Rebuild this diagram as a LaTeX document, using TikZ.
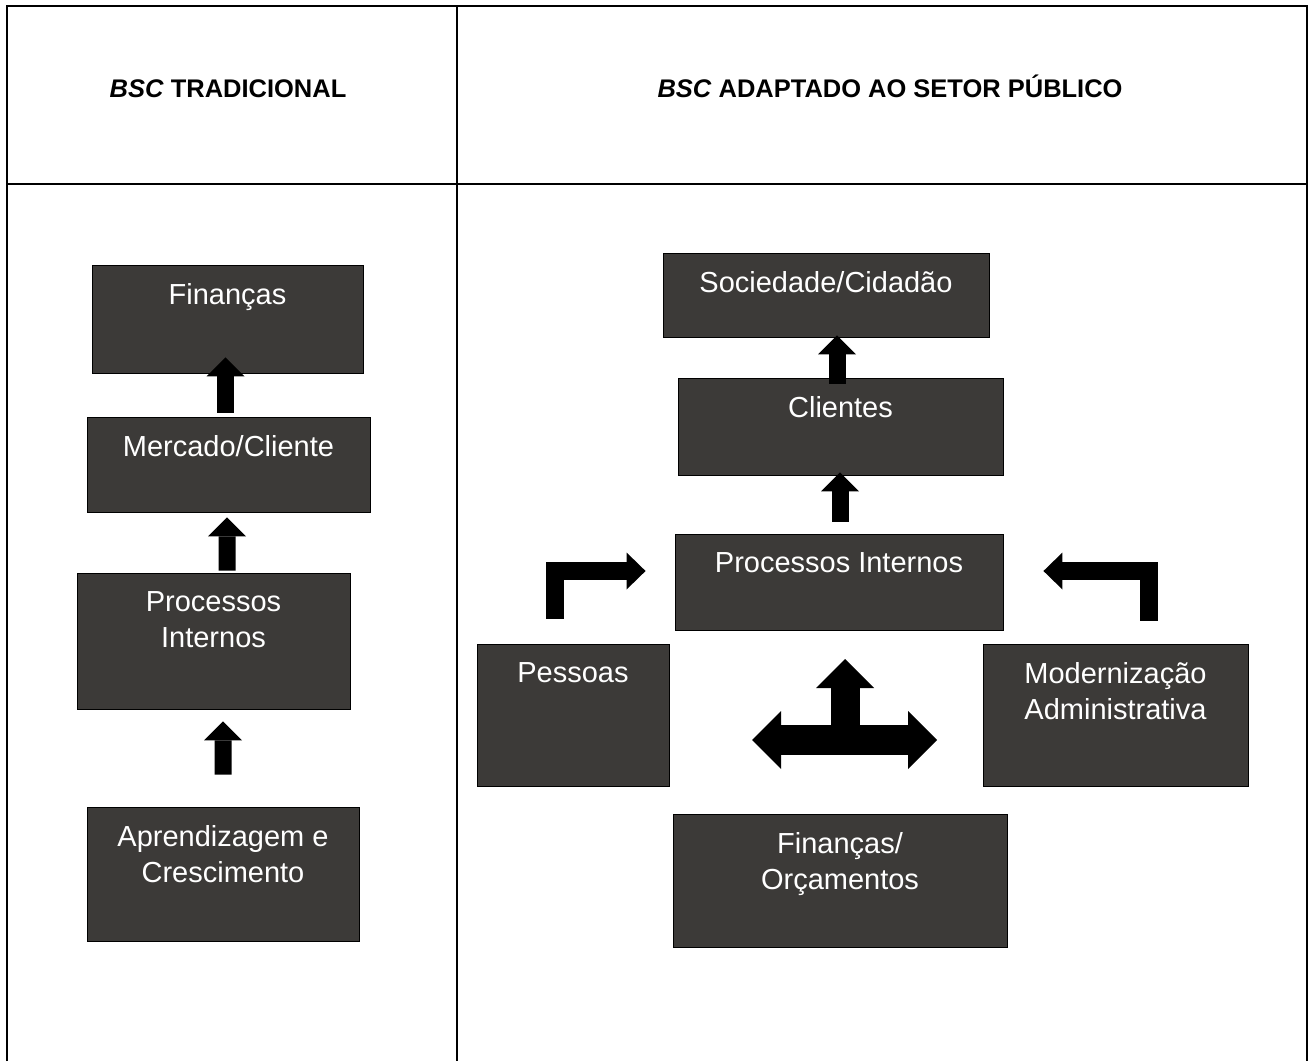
\documentclass[tikz,border=0pt]{standalone}
\usepackage{fontspec}
\setmainfont{Liberation Sans}
\usetikzlibrary{positioning,fit,calc,arrows.meta}

\definecolor{boxgray}{RGB}{60,58,56}
\def\BOXCOLOR{boxgray}
\def\ARROWCOLOR{black}
\def\LINECOLOR{black}

\begin{document}
\begin{tikzpicture}[x=0.02cm,y=-0.02cm,
	tableline/.style={\LINECOLOR,line width=0.05cm,line join=miter},
	box/.style={draw=black,line width=0.5pt,fill=\BOXCOLOR,inner sep=0pt},
	boxtext/.style={text=white,font=\fontsize{16.5}{20.5}\selectfont,align=center,inner sep=0pt,anchor=north},
	header/.style={font=\fontsize{14.5}{17}\selectfont\bfseries,anchor=base,inner sep=0pt},
	uparrow/.style={\ARROWCOLOR,line width=0.34cm,-{Triangle[width=0.76cm,length=0.38cm,line width=0pt]}},
	elbowarrow/.style={\ARROWCOLOR,line width=0.36cm,line join=miter,-{Triangle[width=0.74cm,length=0.38cm,line width=0pt]}},
	hubarrow/.style={\ARROWCOLOR,line width=0.6cm,>={Triangle[width=1.16cm,length=0.58cm,line width=0pt]}}]

	\useasboundingbox (0,0) rectangle (1314,1061);

	\draw[tableline] (7,1061) -- (7,6) -- (1307,6) -- (1307,1061);
	\draw[tableline] (457,6) -- (457,1061);
	\draw[tableline] (7,184) -- (1307,184);

	\node[header] (hdleft) at (228,97) {\textit{BSC} TRADICIONAL};
	\node[header] (hdright) at (890,97) {\textit{BSC} ADAPTADO AO SETOR PÚBLICO};

	\node[box,fit={(92,265) (363,373)}] (fin) {};
	\node[box,fit={(87,417) (370,512)}] (merc) {};
	\node[box,fit={(77,573) (350,709)}] (procl) {};
	\node[box,fit={(87,807) (359,941)}] (apr) {};

	\node[box,fit={(663,253) (989,337)}] (soc) {};
	\node[box,fit={(678,378) (1003,475)}] (cli) {};
	\node[box,fit={(675,534) (1003,630)}] (procr) {};
	\node[box,fit={(477,644) (669,786)}] (pess) {};
	\node[box,fit={(983,644) (1248,786)}] (mod) {};
	\node[box,fit={(673,814) (1007,947)}] (fo) {};

	\node[boxtext,below=0.38cm of fin.north] (fintext) {Finanças};
	\node[boxtext,below=0.38cm of merc.north] (merctext) {Mercado/Cliente};
	\node[boxtext,below=0.38cm of procl.north] (procltext) {Processos\\Internos};
	\node[boxtext,below=0.38cm of apr.north] (aprtext) {Aprendizagem e\\Crescimento};

	\node[boxtext,below=0.38cm of soc.north] (soctext) {Sociedade/Cidadão};
	\node[boxtext,below=0.38cm of cli.north] (clitext) {Clientes};
	\node[boxtext,below=0.38cm of procr.north] (procrtext) {Processos Internos};
	\node[boxtext,below=0.38cm of pess.north] (pesstext) {Pessoas};
	\node[boxtext,below=0.38cm of mod.north] (modtext) {Modernização\\Administrativa};
	\node[boxtext,below=0.38cm of fo.north] (fotext) {Finanças/\\Orçamentos};

	\draw[uparrow] ($(merc.north)+(-3,-4)$) -- ($(fin.south)+(-2,-16)$);
	\draw[uparrow] ($(procl.north)+(13.5,-2)$) -- ($(merc.south)+(-1.5,5)$);
	\draw[uparrow] ($(apr.north)+(0,-32)$) -- ($(procl.south)+(9.5,12)$);

	\draw[uparrow] ($(cli.north)+(-3.5,6)$) -- ($(soc.south)+(11,-2)$);
	\draw[uparrow] ($(procr.north)+(1,-12)$) -- ($(cli.south)+(-0.5,-3)$);

	\draw[elbowarrow] ($(pess.north)+(-18,-25)$) |- ($(procr.west)+(-29,-11)$);
	\draw[elbowarrow] ($(mod.north)+(33.5,-23)$) |- ($(procr.east)+(40,-11)$);

	\coordinate (hub) at (845,740);
	\coordinate (hubw) at (752,740);
	\coordinate (hube) at (937,740);
	\coordinate (hubn) at (845,659);
	\draw[hubarrow,<->] (hubw) -- (hube);
	\draw[hubarrow,->,line width=0.58cm] (hub) -- (hubn);

\end{tikzpicture}
\end{document}
